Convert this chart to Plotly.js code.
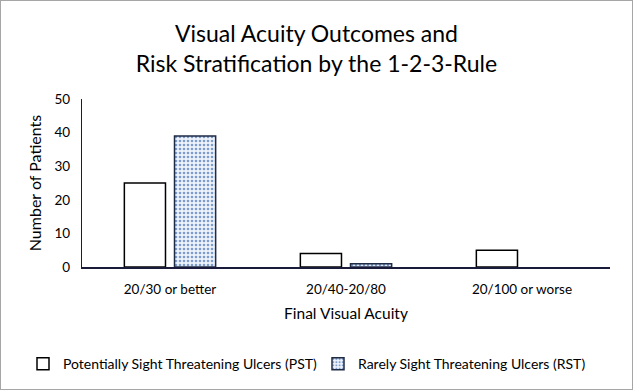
<!DOCTYPE html>
<html>
<head>
<meta charset="utf-8">
<script src="https://cdn.plot.ly/plotly-3.0.1.min.js"></script>
<style>
html,body{margin:0;padding:0;background:#fff;}
#chart{width:631px;height:388px;border:1px solid #a6a6a6;}
</style>
</head>
<body>
<div id="chart"></div>
<script>
const categories = ["20/30 or better", "20/40-20/80", "20/100 or worse"];
const pstValues = [25, 4, 5];
const rstValues = [39, 1, 0];
const seriesNames = ["Potentially Sight Threatening Ulcers (PST)", "Rarely Sight Threatening Ulcers (RST)"];
const yTicks = [0, 10, 20, 30, 40, 50];

const FONT = "Lato, 'Open Sans', sans-serif";

const traces = [
  {
    type: "bar",
    name: seriesNames[0],
    x: categories,
    y: pstValues,
    legend: "legend",
    marker: {color: "#ffffff", line: {color: "#000000", width: 1.5}},
    hoverinfo: "x+y"
  },
  {
    type: "bar",
    name: seriesNames[1],
    x: categories,
    y: rstValues,
    legend: "legend2",
    marker: {
      color: "#e8eef8",
      line: {color: "#1f2a44", width: rstValues.map(v => v > 0 ? 1.5 : 0)},
      pattern: {shape: ".", fgcolor: "#7d9bcb", bgcolor: "#eef3fa", size: 4, solidity: 0.35}
    },
    hoverinfo: "x+y"
  }
];

const legendBase = {
  orientation: "h",
  xref: "container", yref: "container",
  xanchor: "left", yanchor: "middle",
  y: 0.064,
  font: {family: FONT, size: 14},
  bgcolor: "rgba(0,0,0,0)",
  borderwidth: 0
};

const layout = {
  width: 631,
  height: 388,
  margin: {l: 81, r: 22, t: 98, b: 122, autoexpand: false},
  paper_bgcolor: "#ffffff",
  plot_bgcolor: "#ffffff",
  font: {family: FONT, color: "#000000", size: 13},
  title: {
    text: "Visual Acuity Outcomes and<br>Risk Stratification by the 1-2-3-Rule",
    font: {family: FONT, size: 23, color: "#000000"},
    x: 0.5, xanchor: "center",
    y: 0.895, yanchor: "middle", yref: "container"
  },
  barmode: "group",
  bargap: 0.43,
  bargroupgap: 0.18,
  xaxis: {
    showline: true, linecolor: "#1a1a3a", linewidth: 1.5,
    showgrid: false, zeroline: false,
    ticks: "outside", ticklen: 9, tickcolor: "rgba(0,0,0,0)",
    tickangle: 0,
    tickfont: {family: FONT, size: 13.5},
    title: {text: "Final Visual Acuity", font: {family: FONT, size: 15.5}, standoff: 12}
  },
  yaxis: {
    range: [0, 50], tickvals: yTicks,
    showline: true, linecolor: "#1a1a3a", linewidth: 1.2,
    showgrid: false, zeroline: false,
    ticks: "outside", ticklen: 8, tickcolor: "rgba(0,0,0,0)",
    tickfont: {family: FONT, size: 13.5},
    title: {text: "Number of Patients", font: {family: FONT, size: 16}, standoff: 8}
  },
  showlegend: true,
  legend: Object.assign({}, legendBase, {x: 22 / 631}),
  legend2: Object.assign({}, legendBase, {x: 317 / 631})
};

Plotly.newPlot("chart", traces, layout, {displayModeBar: false, staticPlot: true});
</script>
</body>
</html>
